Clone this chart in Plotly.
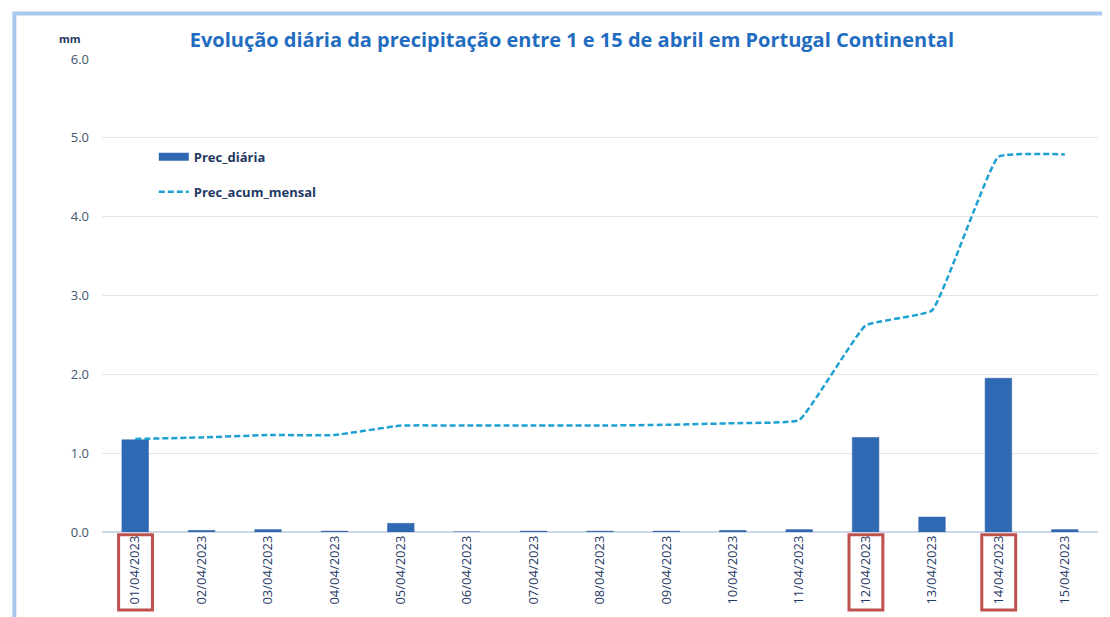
import plotly.graph_objects as go

# dados (mm)
dias = ['01/04/2023', '02/04/2023', '03/04/2023', '04/04/2023', '05/04/2023',
        '06/04/2023', '07/04/2023', '08/04/2023', '09/04/2023', '10/04/2023',
        '11/04/2023', '12/04/2023', '13/04/2023', '14/04/2023', '15/04/2023']
prec_diaria = [1.17, 0.02, 0.03, 0.01, 0.11, 0.0, 0.01, 0.01, 0.01, 0.02,
               0.03, 1.20, 0.19, 1.95, 0.03]
prec_acum = [1.18, 1.20, 1.23, 1.23, 1.35, 1.35, 1.35, 1.35, 1.36, 1.38,
             1.42, 2.62, 2.81, 4.76, 4.79]
destaques = ['01/04/2023', '12/04/2023', '14/04/2023']

txt = '#1f3864'
azul_barra = '#3069b3'

fig = go.Figure()
fig.add_trace(go.Bar(x=dias, y=prec_diaria, name='Prec_diária', width=0.4,
                     marker=dict(color=azul_barra, line=dict(color='#2a5d9e', width=0.5)),
                     showlegend=False))
# entrada de legenda com símbolo retangular largo (como no Excel)
fig.add_trace(go.Scatter(x=[None], y=[None], name='Prec_diária', mode='lines',
                         line=dict(color=azul_barra, width=8), legendgroup='a'))
fig.add_trace(go.Scatter(x=dias, y=prec_acum, name='Prec_acum_mensal', mode='lines',
                         line=dict(color='#1ea0d2', width=2.5, dash='6px,3px',
                                   shape='spline', smoothing=0.3),
                         legendgroup='b'))

# caixas vermelhas nas datas em destaque
for d in destaques:
    i = dias.index(d)
    fig.add_shape(type='rect', xref='x', yref='paper', x0=i - 0.25, x1=i + 0.26,
                  y0=-0.006, y1=-0.165, line=dict(color='#c0504d', width=3))

# moldura do gráfico
fig.add_shape(type='rect', xref='paper', yref='paper', x0=-0.088, x1=1.03,
              y0=1.096, y1=-0.2, line=dict(color='#a9c8ee', width=4), layer='below')

fig.add_annotation(text='<b>mm</b>', xref='paper', yref='paper', x=-0.032, y=1.044,
                   xanchor='center', yanchor='middle',
                   showarrow=False, font=dict(size=11, color=txt))

fig.update_layout(
    width=1110, height=617,
    margin=dict(l=94, r=20, t=51, b=93),
    paper_bgcolor='white', plot_bgcolor='white',
    font=dict(family='Open Sans, Arial', color=txt),
    title=dict(text='<b>Evolução diária da precipitação entre 1 e 15 de abril em Portugal Continental</b>',
               x=0.508, xanchor='center', y=0.948, yanchor='middle',
               font=dict(size=20, color='#1f6cc0')),
    showlegend=True,
    legend=dict(x=0.052, y=0.825, xanchor='left', yanchor='top', bgcolor='rgba(0,0,0,0)',
                font=dict(size=13, color=txt, weight='bold'),
                traceorder='grouped', tracegroupgap=15),
    bargap=0.6,
)
fig.update_yaxes(range=[0, 6], dtick=1, tickformat='.1f', showgrid=True,
                 gridcolor='#e6e6e6', zeroline=True, zerolinecolor='#cdd8ea',
                 zerolinewidth=1.5, ticks='', tickfont=dict(size=13, color='#44546a'),
                 ticklabelstandoff=12)
fig.update_xaxes(tickangle=-90, tickfont=dict(size=13, color=txt), showgrid=False,
                 ticks='', showline=False)

fig.write_html('out.html')
